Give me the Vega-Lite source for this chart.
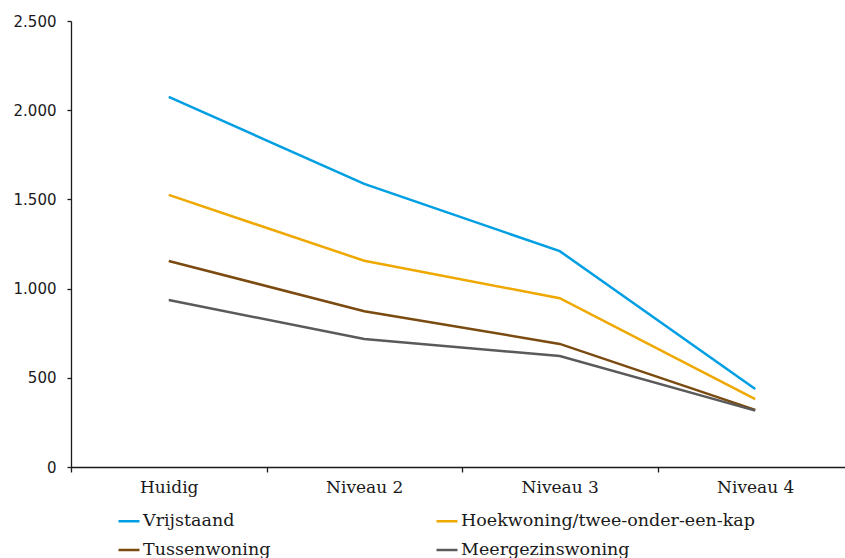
{
  "$schema": "https://vega.github.io/schema/vega-lite/v6.json",
  "width": 782,
  "height": 446,
  "autosize": {"type": "none"},
  "padding": {"left": 71, "top": 21, "right": 0, "bottom": 91},
  "background": "white",
  "config": {
    "locale": {"number": {"decimal": ",", "thousands": ".", "grouping": [3], "currency": ["€", ""]}},
    "view": {"stroke": null},
    "axis": {"domainColor": "#1a1a1a", "tickColor": "#1a1a1a", "labelColor": "#1a1a1a", "grid": false, "title": null}
  },
  "data": {
    "values": [
      {"niveau": "Huidig", "type": "Vrijstaand", "waarde": 2075},
      {"niveau": "Niveau 2", "type": "Vrijstaand", "waarde": 1587},
      {"niveau": "Niveau 3", "type": "Vrijstaand", "waarde": 1210},
      {"niveau": "Niveau 4", "type": "Vrijstaand", "waarde": 437},
      {"niveau": "Huidig", "type": "Hoekwoning/twee-onder-een-kap", "waarde": 1525},
      {"niveau": "Niveau 2", "type": "Hoekwoning/twee-onder-een-kap", "waarde": 1156},
      {"niveau": "Niveau 3", "type": "Hoekwoning/twee-onder-een-kap", "waarde": 946},
      {"niveau": "Niveau 4", "type": "Hoekwoning/twee-onder-een-kap", "waarde": 381},
      {"niveau": "Huidig", "type": "Tussenwoning", "waarde": 1155},
      {"niveau": "Niveau 2", "type": "Tussenwoning", "waarde": 873},
      {"niveau": "Niveau 3", "type": "Tussenwoning", "waarde": 690},
      {"niveau": "Niveau 4", "type": "Tussenwoning", "waarde": 320},
      {"niveau": "Huidig", "type": "Meergezinswoning", "waarde": 936},
      {"niveau": "Niveau 2", "type": "Meergezinswoning", "waarde": 717},
      {"niveau": "Niveau 3", "type": "Meergezinswoning", "waarde": 622},
      {"niveau": "Niveau 4", "type": "Meergezinswoning", "waarde": 316}
    ]
  },
  "mark": {"type": "line", "strokeWidth": 2.5},
  "encoding": {
    "x": {
      "field": "niveau",
      "type": "nominal",
      "sort": null,
      "bandPosition": 0.5,
      "scale": {"type": "band", "paddingInner": 0, "paddingOuter": 0},
      "axis": {
        "labelAngle": 0,
        "labelFont": "DejaVu Serif",
        "labelFontSize": 17,
        "labelPadding": 7,
        "tickSize": 5,
        "tickBand": "extent",
        "domainColor": "#1a1a1a",
        "tickColor": "#1a1a1a",
        "domainWidth": 1.3,
        "tickWidth": 1.3
      }
    },
    "y": {
      "field": "waarde",
      "type": "quantitative",
      "scale": {"domain": [0, 2500], "nice": false},
      "axis": {
        "values": [0, 500, 1000, 1500, 2000, 2500],
        "format": ",d",
        "labelFont": "DejaVu Sans",
        "labelFontSize": 15,
        "labelPadding": 11,
        "tickSize": 4,
        "domainColor": "#1a1a1a",
        "tickColor": "#1a1a1a",
        "domainWidth": 1.3,
        "tickWidth": 1.3
      }
    },
    "color": {
      "field": "type",
      "type": "nominal",
      "sort": null,
      "scale": {
        "domain": ["Vrijstaand", "Tussenwoning", "Hoekwoning/twee-onder-een-kap", "Meergezinswoning"],
        "range": ["#009fe3", "#7a4a10", "#eea800", "#5a5a5a"]
      },
      "legend": {
        "title": null,
        "orient": "none",
        "legendX": 46,
        "legendY": 488,
        "columns": 2,
        "columnPadding": 160,
        "rowPadding": 8,
        "symbolType": "stroke",
        "symbolSize": 441,
        "symbolStrokeWidth": 2.5,
        "labelFont": "DejaVu Serif",
        "labelFontSize": 17.5,
        "labelColor": "#1a1a1a",
        "labelOffset": 2,
        "labelLimit": 400
      }
    }
  }
}
